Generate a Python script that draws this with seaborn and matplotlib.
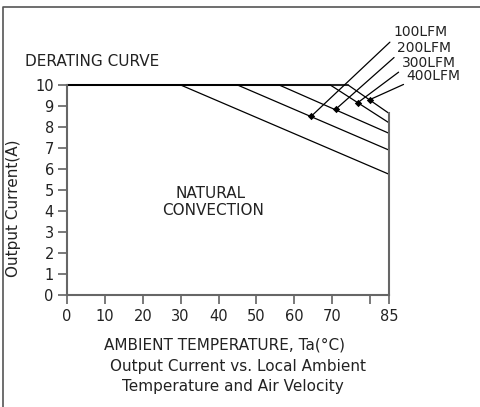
import matplotlib
matplotlib.use("Agg")
import matplotlib.pyplot as plt
from matplotlib.lines import Line2D
import seaborn as sns
import pandas as pd

# ---- data ----
series_names = ["NATURAL", "100LFM", "200LFM", "300LFM", "400LFM"]
curve_x = {
    "NATURAL": [0, 30, 85],
    "100LFM": [0, 45, 85],
    "200LFM": [0, 56, 85],
    "300LFM": [0, 69.5, 85],
    "400LFM": [0, 74.2, 85],
}
curve_y = {
    "NATURAL": [10, 10, 5.75],
    "100LFM": [10, 10, 6.9],
    "200LFM": [10, 10, 7.7],
    "300LFM": [10, 10, 8.2],
    "400LFM": [10, 10, 8.65],
}
marker_labels = ["100LFM", "200LFM", "300LFM", "400LFM"]
marker_x = [64.4, 70.9, 76.7, 79.9]
marker_y = [8.5, 8.84, 9.15, 9.3]
label_x = [86.1, 87.2, 88.4, 89.7]
label_y = [12.33, 11.59, 10.87, 10.24]
xticks = [0, 10, 20, 30, 40, 50, 60, 70, 80, 85]
xtick_labels = ["0", "10", "20", "30", "40", "50", "60", "70", "", "85"]
yticks = list(range(0, 11))

rows = []
for name in series_names:
    for xv, yv in zip(curve_x[name], curve_y[name]):
        rows.append({"series": name, "T": xv, "I": yv})
df = pd.DataFrame(rows)
mk = pd.DataFrame({"label": marker_labels, "T": marker_x, "I": marker_y})

sns.set_style("white")
plt.rcParams["font.family"] = ["DejaVu Sans"]

W, H = 481, 407
fig = plt.figure(figsize=(W / 100, H / 100), dpi=100)
ax = fig.add_axes([67 / W, 1 - 295 / H, (389 - 67) / W, 210 / H])

sns.lineplot(data=df, x="T", y="I", hue="series", units="series", estimator=None,
             palette={n: "black" for n in series_names}, legend=False,
             linewidth=0.9, ax=ax, sort=False, clip_on=False)
sns.scatterplot(data=mk, x="T", y="I", color="black", s=14, marker="D",
                ax=ax, legend=False, zorder=5, clip_on=False, linewidth=0)

ax.set_xlim(0, 85)
ax.set_ylim(0, 10)
ax.axhline(10, xmin=0, xmax=74.2 / 85, color="#666666", lw=1.5, zorder=1, clip_on=False)

ax.spines["top"].set_visible(False)
for s in ["left", "bottom", "right"]:
    ax.spines[s].set_color("#666666")
    ax.spines[s].set_linewidth(1.5)
ax.spines["right"].set_bounds(0, curve_y["400LFM"][-1])

ax.set_xticks(xticks)
ax.set_xticklabels(xtick_labels)
ax.set_yticks(yticks)
ax.tick_params(axis="both", which="major", bottom=True, left=True, right=False, top=False,
               direction="out", length=6.5, width=1.1, color="#555555",
               labelsize=10.5, labelcolor="#222222", pad=3)
ax.tick_params(axis="x", pad=3.5)
ax.set_xlabel("")
ax.set_ylabel("")

fs = 11
for lab, mx, my, lx, ly in zip(marker_labels, marker_x, marker_y, label_x, label_y):
    ax.annotate(lab, xy=(mx, my), xytext=(lx, ly), textcoords="data",
                ha="left", va="baseline", fontsize=10, color="#222222",
                annotation_clip=False,
                arrowprops=dict(arrowstyle="-", color="black", lw=0.9,
                                shrinkA=0, shrinkB=0, relpos=(0, 0)))

def ftext(px, py, s, **kw):
    fig.text(px / W, 1 - py / H, s, color="#222222", **kw)

ftext(25, 62, "DERATING CURVE", fontsize=fs, ha="left", va="center")
ftext(211, 193, "NATURAL", fontsize=fs, ha="center", va="center")
ftext(213, 210, "CONVECTION", fontsize=fs, ha="center", va="center")
ftext(224, 345, "AMBIENT TEMPERATURE, Ta(°C)", fontsize=fs, ha="center", va="center")
ftext(238, 367, "Output Current vs. Local Ambient", fontsize=fs, ha="center", va="center")
ftext(233, 387, "Temperature and Air Velocity", fontsize=fs, ha="center", va="center")
ftext(14, 208, "Output Current(A)", fontsize=fs, ha="center", va="center", rotation=90)

fig.add_artist(Line2D([3 / W, 3 / W, 1], [0, 1 - 7 / H, 1 - 7 / H],
                      transform=fig.transFigure, color="#555555", lw=1.2))

fig.savefig("out.png", dpi=100, facecolor="white")
